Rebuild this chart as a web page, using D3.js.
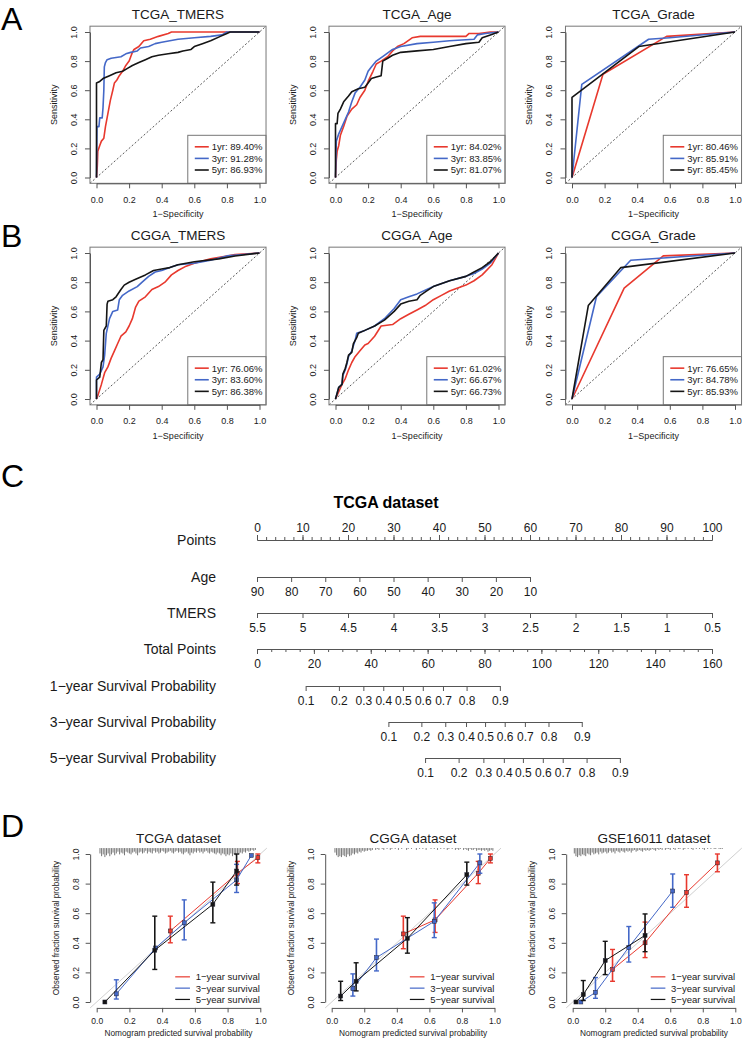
<!DOCTYPE html>
<html><head><meta charset="utf-8">
<script src="https://cdn.jsdelivr.net/npm/d3@7"></script>
<style>
body{margin:0;background:#fff;}
svg{display:block;font-family:"Liberation Sans",Arial,Helvetica,sans-serif;}
</style></head><body>
<svg id="c" width="745" height="1040"></svg>
<script>
// ---------------- DATA ----------------
const rocTitles = ["TCGA_TMERS","TCGA_Age","TCGA_Grade","CGGA_TMERS","CGGA_Age","CGGA_Grade"];
const rocYears = ["1yr","3yr","5yr"];
const rocAUC = [[89.40,91.28,86.93],[84.02,83.85,81.07],[80.46,85.91,85.45],[76.06,83.60,86.38],[61.02,66.67,66.73],[76.65,84.78,85.93]];
const rocTicks = [0,0.2,0.4,0.6,0.8,1.0];

const tcgaTmers1 = [[0,0],[0.005,0.08],[0.008,0.18],[0.02,0.22],[0.03,0.25],[0.045,0.27],[0.055,0.35],[0.065,0.41],[0.075,0.47],[0.085,0.53],[0.1,0.6],[0.11,0.65],[0.125,0.67],[0.14,0.7],[0.16,0.73],[0.18,0.77],[0.2,0.8],[0.21,0.83],[0.22,0.86],[0.23,0.88],[0.26,0.9],[0.29,0.94],[0.33,0.95],[0.38,0.97],[0.44,0.99],[0.46,1],[1,1]];
const tcgaTmers3 = [[0,0],[0.003,0.35],[0.015,0.35],[0.02,0.41],[0.035,0.41],[0.04,0.48],[0.045,0.6],[0.048,0.76],[0.055,0.79],[0.065,0.81],[0.09,0.82],[0.15,0.83],[0.18,0.85],[0.21,0.86],[0.25,0.87],[0.27,0.89],[0.32,0.9],[0.36,0.92],[0.4,0.93],[0.45,0.94],[0.5,0.95],[0.6,0.96],[0.7,0.97],[0.77,0.98],[0.8,1],[1,1]];
const tcgaTmers5 = [[0,0],[0,0.65],[0.02,0.66],[0.04,0.68],[0.08,0.7],[0.12,0.72],[0.16,0.73],[0.19,0.75],[0.22,0.77],[0.26,0.79],[0.3,0.81],[0.34,0.83],[0.38,0.84],[0.44,0.85],[0.5,0.86],[0.53,0.87],[0.58,0.88],[0.6,0.9],[0.65,0.92],[0.7,0.94],[0.76,0.97],[0.8,0.99],[0.82,1],[1,1]];

const tcgaAge1 = [[0,0],[0.005,0.12],[0.01,0.18],[0.02,0.22],[0.03,0.29],[0.05,0.35],[0.07,0.42],[0.1,0.47],[0.13,0.5],[0.15,0.55],[0.18,0.6],[0.2,0.66],[0.23,0.73],[0.25,0.78],[0.28,0.8],[0.32,0.83],[0.35,0.87],[0.38,0.9],[0.42,0.92],[0.47,0.96],[0.52,0.97],[0.8,0.97],[0.82,0.99],[0.88,0.99],[0.95,1],[1,1]];
const tcgaAge3 = [[0,0],[0.005,0.25],[0.02,0.3],[0.04,0.35],[0.06,0.4],[0.08,0.45],[0.1,0.52],[0.12,0.58],[0.15,0.62],[0.18,0.67],[0.2,0.73],[0.22,0.76],[0.25,0.8],[0.3,0.84],[0.35,0.88],[0.4,0.9],[0.5,0.92],[0.6,0.93],[0.7,0.94],[0.85,0.95],[0.87,0.98],[0.92,0.99],[1,1]];
const tcgaAge5 = [[0,0],[0,0.37],[0.01,0.37],[0.015,0.44],[0.03,0.47],[0.05,0.52],[0.08,0.56],[0.1,0.59],[0.14,0.61],[0.18,0.62],[0.2,0.65],[0.22,0.68],[0.25,0.69],[0.28,0.7],[0.29,0.8],[0.32,0.82],[0.35,0.84],[0.4,0.86],[0.5,0.87],[0.6,0.88],[0.7,0.9],[0.8,0.92],[0.88,0.93],[0.9,0.96],[0.95,0.98],[1,1]];

const tcgaGrade1 = [[0,0],[0.19,0.71],[0.58,0.97],[1,1]];
const tcgaGrade3 = [[0,0],[0.06,0.64],[0.47,0.95],[0.6,0.96],[1,1]];
const tcgaGrade5 = [[0,0],[0,0.55],[0.41,0.9],[1,1]];

const cggaTmers1 = [[0,0],[0.01,0.03],[0.03,0.1],[0.05,0.18],[0.07,0.22],[0.09,0.28],[0.11,0.33],[0.13,0.38],[0.15,0.43],[0.18,0.46],[0.2,0.5],[0.22,0.55],[0.24,0.63],[0.26,0.67],[0.3,0.7],[0.34,0.75],[0.38,0.77],[0.42,0.8],[0.46,0.85],[0.5,0.88],[0.55,0.91],[0.6,0.93],[0.7,0.96],[0.8,0.98],[0.85,0.99],[1,1]];
const cggaTmers3 = [[0,0],[0,0.15],[0.02,0.17],[0.04,0.22],[0.05,0.3],[0.06,0.45],[0.08,0.55],[0.1,0.6],[0.13,0.61],[0.14,0.68],[0.16,0.71],[0.2,0.74],[0.25,0.77],[0.28,0.8],[0.32,0.84],[0.36,0.87],[0.4,0.88],[0.45,0.9],[0.5,0.92],[0.6,0.93],[0.7,0.95],[0.8,0.98],[0.9,0.99],[1,1]];
const cggaTmers5 = [[0,0],[0,0.13],[0.02,0.15],[0.03,0.25],[0.04,0.27],[0.045,0.47],[0.06,0.5],[0.065,0.65],[0.07,0.67],[0.1,0.68],[0.12,0.7],[0.15,0.75],[0.17,0.78],[0.2,0.8],[0.24,0.82],[0.3,0.85],[0.35,0.88],[0.4,0.89],[0.45,0.9],[0.5,0.92],[0.6,0.94],[0.75,0.96],[0.85,0.98],[1,1]];

const cggaAge1 = [[0,0],[0.02,0.05],[0.04,0.1],[0.06,0.14],[0.08,0.2],[0.1,0.25],[0.12,0.29],[0.15,0.33],[0.18,0.37],[0.2,0.38],[0.24,0.43],[0.28,0.5],[0.35,0.51],[0.4,0.55],[0.45,0.58],[0.5,0.61],[0.55,0.64],[0.6,0.68],[0.65,0.71],[0.7,0.74],[0.75,0.76],[0.8,0.78],[0.85,0.81],[0.9,0.85],[0.96,0.92],[1,1]];
const cggaAge3 = [[0,0],[0.01,0.04],[0.02,0.08],[0.04,0.1],[0.045,0.16],[0.06,0.2],[0.07,0.24],[0.08,0.29],[0.1,0.33],[0.12,0.4],[0.13,0.45],[0.18,0.47],[0.24,0.5],[0.3,0.55],[0.36,0.62],[0.4,0.68],[0.45,0.7],[0.5,0.72],[0.56,0.75],[0.6,0.77],[0.7,0.81],[0.8,0.84],[0.85,0.86],[0.9,0.89],[0.95,0.93],[1,1]];
const cggaAge5 = [[0,0],[0.01,0.04],[0.02,0.08],[0.04,0.1],[0.045,0.17],[0.06,0.21],[0.07,0.25],[0.08,0.3],[0.1,0.32],[0.11,0.38],[0.13,0.42],[0.14,0.45],[0.18,0.47],[0.24,0.5],[0.3,0.54],[0.36,0.6],[0.4,0.65],[0.45,0.67],[0.5,0.68],[0.52,0.71],[0.56,0.74],[0.6,0.77],[0.7,0.81],[0.8,0.84],[0.85,0.87],[0.9,0.9],[0.95,0.94],[1,1]];

const cggaGrade1 = [[0,0],[0.32,0.76],[0.56,0.98],[1,1]];
const cggaGrade3 = [[0,0],[0.15,0.70],[0.36,0.95],[1,1]];
const cggaGrade5 = [[0,0],[0.1,0.64],[0.3,0.9],[1,1]];

// Nomogram
const nomoRows = ["Points","Age","TMERS","Total Points","1\u2212year Survival Probability","3\u2212year Survival Probability","5\u2212year Survival Probability"];
const pointsTicks = [0,10,20,30,40,50,60,70,80,90,100];
const ageTicks = [90,80,70,60,50,40,30,20,10];
const agePoints = [0,60];           // points for age 90 and age 10
const tmersTicks = [5.5,5,4.5,4,3.5,3,2.5,2,1.5,1,0.5];
const tmersPoints = [0,100];        // points for TMERS 5.5 and 0.5
const totalTicks = [0,20,40,60,80,100,120,140,160];
const survProbs = [0.1,0.2,0.3,0.4,0.5,0.6,0.7,0.8,0.9];
const surv1yrTotal = [17.1,28.8,37.4,44.4,51.3,58.3,65.4,73.7,85.4];
const surv3yrTotal = [46.2,57.8,66.2,73.5,80.2,87.1,94.2,102.5,114.2];
const surv5yrTotal = [59.1,70.9,79.6,86.8,93.5,100.5,107.5,115.9,127.6];

// Calibration: [predicted, observed, lower, upper]
const calTitles = ["TCGA dataset","CGGA dataset","GSE16011 dataset"];
const calLegend = ["1\u2212year survival","3\u2212year survival","5\u2212year survival"];
const tcgaCal1 = [[0.45,0.48,0.40,0.58],[0.86,0.87,0.80,0.95],[0.985,0.975,0.94,1.0]];
const tcgaCal3 = [[0.12,0.055,0.02,0.15],[0.36,0.365,null,null],[0.535,0.535,0.42,0.69],[0.855,0.825,0.74,0.93],[0.945,0.99,null,null]];
const tcgaCal5 = [[0.05,0.0,null,null],[0.355,0.35,0.22,0.58],[0.71,0.66,0.535,0.81],[0.855,0.885,0.79,1.0]];
const cggaCal1 = [[0.44,0.46,0.36,0.58],[0.635,0.555,0.47,0.69],[0.90,0.87,0.80,0.95],[0.975,0.97,0.94,1.0]];
const cggaCal3 = [[0.13,0.09,0.04,0.19],[0.275,0.30,0.21,0.425],[0.63,0.545,0.435,0.67],[0.91,0.94,0.87,1.0]];
const cggaCal5 = [[0.055,0.04,0.01,0.14],[0.15,0.14,0.075,0.265],[0.465,0.43,0.33,0.57],[0.83,0.86,0.79,0.945]];
const gseCal1 = [[0.245,0.22,0.14,0.355],[0.445,0.40,0.30,0.54],[0.70,0.74,0.64,0.86],[0.89,0.94,0.88,1.0]];
const gseCal3 = [[0.05,0.0,null,null],[0.14,0.065,0.025,0.165],[0.345,0.37,0.27,0.51],[0.615,0.75,0.64,0.865]];
const gseCal5 = [[0.02,0.0,null,null],[0.065,0.05,0.01,0.145],[0.2,0.28,0.185,0.41],[0.445,0.45,0.34,0.595]];

// Risk distribution spikes (relative frequency per 0.01 bin of predicted probability)
const tcgaRiskStart = 0.02;
const tcgaRisk = [0.6,0.9,0.7,1.0,0.8,0.6,0.9,0.7,0.5,0.8,0.6,0.4,0.7,0.5,0.6,0.8,0.4,0.5,0.6,0.7,0.5,0.4,0.6,0.8,0.5,0.4,0.6,0.5,0.3,0.6,0.4,0.5,0.6,0.3,0.5,0.4,0.6,0.5,0.3,0.4,0.6,0.5,0.4,0.3,0.5,0.6,0.4,0.3,0.5,0.4,0.6,0.7,0.5,0.4,0.6,0.8,0.5,0.6,0.4,0.5,0.3,0.5,0.4,0.6,0.4,0.3,0.5,0.6,0.4,0.5,0.6,0.7,0.5,0.6,0.8,0.6,0.7,0.9,0.7,0.8,0.6,0.9,0.7,0.8,0.6,0.7,0.5,0.6,0.4,0.5,0.3,0.4,0.3,0.2,0.3,0.2];
const cggaRiskStart = 0.02;
const cggaRisk = [0.5,0.8,1.0,0.9,1.0,0.8,0.9,1.0,0.7,0.9,0.8,0.6,0.7,0.5,0.6,0.4,0.5,0.3,0.4,0.3,0.3,0.2,0.3,0.2,0,0.2,0.1,0.2,0,0.1,0.2,0,0.1,0,0.2,0.1,0,0.1,0,0.2,0,0.1,0,0,0.2,0.1,0,0.1,0,0,0.2,0,0.1,0,0.1,0,0.2,0,0,0.1,0,0.1,0,0.2,0,0.1,0,0.1,0,0.2,0.1,0,0.1,0,0.2,0.1,0.2,0.1,0,0.2,0.1,0.2,0.3,0.1,0.2,0.2,0.1,0.3,0.2,0.2,0.3,0.2,0.3,0.2,0.4,0.3,0.2,0.3];
const gseRiskStart = 0.01;
const gseRisk = [0.6,0.9,1.0,0.8,0.9,0.7,0.8,0.9,0.6,0.7,0.8,0.5,0.7,0.6,0.5,0.7,0.4,0.6,0.5,0.4,0.6,0.5,0.3,0.5,0.4,0.6,0.3,0.4,0.5,0.3,0.4,0.5,0.3,0.4,0.3,0.5,0.3,0.2,0.4,0.3,0.2,0.3,0.4,0.2,0.3,0.2,0.3,0.2,0.1,0.2,0.3,0.1,0.2,0.1,0.2,0,0.2,0.1,0.1,0.2,0,0.1,0.2,0,0.1,0.1,0,0.2,0.1,0,0.1,0,0.1,0.2,0,0.1,0,0.1,0,0.1,0.2,0,0.1,0,0.1,0,0.1,0.1,0,0.1,0.1,0.1];

// ---------------- DRAWING ----------------
const COLORS = ["#E8392E","#4468C8","#151515"];
const TXT = "#1a1a1a", AX = "#555";
const svg = d3.select("#c");
svg.append("rect").attr("width",745).attr("height",1040).attr("fill","#fff");

function styleAxis(g, fs){
  g.attr("font-family",null).attr("font-size",null);
  g.selectAll(".domain").attr("stroke",AX).attr("stroke-width",1);
  g.selectAll(".tick line").attr("stroke",AX).attr("stroke-width",1);
  g.selectAll(".tick text").attr("fill",TXT).style("font-size",fs+"px");
}

function panelLetter(t,x,y){
  svg.append("text").attr("x",x).attr("y",y).text(t).attr("fill","#000").style("font-size","32px");
}

const colX = [[96.5,259.5],[335.5,498.5],[572,735]];

function rocPlot(ci, yTop, yBot, title, curves, aucs){
  const x = d3.scaleLinear().domain([0,1]).range(colX[ci]);
  const y = d3.scaleLinear().domain([0,1]).range([yBot,yTop]);
  const g = svg.append("g");
  g.append("line").attr("x1",x(-0.04)).attr("y1",y(-0.04)).attr("x2",x(1.04)).attr("y2",y(1.04))
    .attr("stroke","#444").attr("stroke-width",0.9).attr("stroke-dasharray","2,2");
  const line = d3.line().x(d=>x(d[0])).y(d=>y(d[1]));
  curves.forEach((c,i)=>{
    g.append("path").attr("d",line(c)).attr("fill","none").attr("stroke",COLORS[i]).attr("stroke-width",1.6).attr("stroke-linejoin","round");
  });
  // legend
  const lx0 = x(0.56), ly0 = y(0.29);
  g.append("rect").attr("x",lx0).attr("y",ly0).attr("width",x(1.04)-lx0).attr("height",y(-0.04)-ly0)
    .attr("fill","#fff").attr("stroke","#777").attr("stroke-width",1);
  aucs.forEach((a,i)=>{
    const yy = ly0 + 11.5 + i*11.6;
    g.append("line").attr("x1",lx0+7).attr("x2",lx0+21).attr("y1",yy).attr("y2",yy).attr("stroke",COLORS[i]).attr("stroke-width",1.6);
    g.append("text").attr("x",lx0+24).attr("y",yy+3.4).text(rocYears[i]+": "+a.toFixed(2)+"%").attr("fill",TXT).style("font-size","9.5px");
  });
  // box
  g.append("rect").attr("x",x(-0.04)).attr("y",y(1.04)).attr("width",x(1.04)-x(-0.04)).attr("height",y(-0.04)-y(1.04))
    .attr("fill","none").attr("stroke","#777").attr("stroke-width",1);
  // axes
  const xa = g.append("g").attr("transform",`translate(0,${y(-0.04)})`)
    .call(d3.axisBottom(x).tickValues(rocTicks).tickSize(5).tickSizeOuter(0).tickPadding(8).tickFormat(d3.format(".1f")));
  styleAxis(xa,9);
  const ya = g.append("g").attr("transform",`translate(${x(-0.04)},0)`)
    .call(d3.axisLeft(y).tickValues(rocTicks).tickSize(5).tickSizeOuter(0).tickFormat(d3.format(".1f")));
  styleAxis(ya,9);
  ya.selectAll(".tick text").attr("transform","rotate(-90)").attr("x",0).attr("y",-13).attr("dy",0).attr("text-anchor","middle");
  // labels
  g.append("text").attr("x",(x(0)+x(1))/2).attr("y",yTop-13).attr("text-anchor","middle").text(title).attr("fill",TXT).style("font-size","13.5px");
  g.append("text").attr("x",(x(0)+x(1))/2).attr("y",y(-0.04)+34).attr("text-anchor","middle").text("1\u2212Specificity").attr("fill",TXT).style("font-size","9px");
  g.append("text").attr("transform",`translate(${x(-0.04)-33},${(y(0)+y(1))/2}) rotate(-90)`).attr("text-anchor","middle").text("Sensitivity").attr("fill",TXT).style("font-size","9px");
}

panelLetter("A",1,29.5);
rocPlot(0,32,177.5,rocTitles[0],[tcgaTmers1,tcgaTmers3,tcgaTmers5],rocAUC[0]);
rocPlot(1,32,177.5,rocTitles[1],[tcgaAge1,tcgaAge3,tcgaAge5],rocAUC[1]);
rocPlot(2,32,177.5,rocTitles[2],[tcgaGrade1,tcgaGrade3,tcgaGrade5],rocAUC[2]);
panelLetter("B",1,247);
rocPlot(0,253,399,rocTitles[3],[cggaTmers1,cggaTmers3,cggaTmers5],rocAUC[3]);
rocPlot(1,253,399,rocTitles[4],[cggaAge1,cggaAge3,cggaAge5],rocAUC[4]);
rocPlot(2,253,399,rocTitles[5],[cggaGrade1,cggaGrade3,cggaGrade5],rocAUC[5]);

// ---------- Nomogram ----------
panelLetter("C",1,487);
svg.append("text").attr("x",386).attr("y",508).attr("text-anchor","middle").text("TCGA dataset")
  .attr("fill","#000").style("font-size","16px").style("font-weight","bold");
const rowY = [540,577,613,649,686,722,758];
const pts = d3.scaleLinear().domain([0,100]).range([257,712]);
const tot = d3.scaleLinear().domain([0,160]).range([257,712]);
nomoRows.forEach((r,i)=>{
  svg.append("text").attr("x",216).attr("y",rowY[i]+5).attr("text-anchor","end").text(r).attr("fill",TXT).style("font-size","14px");
});
function nomoAxis(scale, yPos, ticks, fmt, top, minor){
  if(minor){
    const gm = svg.append("g").attr("transform",`translate(0,${yPos})`)
      .call((top?d3.axisTop(scale):d3.axisBottom(scale)).tickValues(minor).tickSize(3).tickSizeOuter(0).tickFormat(""));
    styleAxis(gm,12);
  }
  const g = svg.append("g").attr("transform",`translate(0,${yPos})`)
    .call((top?d3.axisTop(scale):d3.axisBottom(scale)).tickValues(ticks).tickSize(5).tickSizeOuter(0).tickPadding(top?3.5:5).tickFormat(fmt));
  styleAxis(g,12);
  return g;
}
nomoAxis(pts,rowY[0],pointsTicks,d=>d,true,d3.range(0,101,2));
const ageScale = d3.scaleLinear().domain([ageTicks[0],ageTicks[ageTicks.length-1]]).range(agePoints.map(pts));
nomoAxis(ageScale,rowY[1],ageTicks,d=>d,false);
const tmScale = d3.scaleLinear().domain([tmersTicks[0],tmersTicks[tmersTicks.length-1]]).range(tmersPoints.map(pts));
nomoAxis(tmScale,rowY[2],tmersTicks,d=>d,false);
nomoAxis(tot,rowY[3],totalTicks,d=>d,false,d3.range(0,161,5));
[surv1yrTotal,surv3yrTotal,surv5yrTotal].forEach((arr,k)=>{
  const s = d3.scaleLinear().domain([arr[0],arr[arr.length-1]]).range([tot(arr[0]),tot(arr[arr.length-1])]);
  nomoAxis(s,rowY[4+k],arr,(d,i)=>survProbs[i],false);
});

// ---------- Calibration ----------
panelLetter("D",1,837);
const colD = [[96.7,260.3],[331.7,494.5],[572.7,735.3]];
function calPlot(ci, title, series, risk, riskStart){
  const x = d3.scaleLinear().domain([0,1]).range(colD[ci]);
  const y = d3.scaleLinear().domain([0,1]).range([1002,854]);
  const g = svg.append("g");
  // ideal line
  g.append("line").attr("x1",x(-0.04)).attr("y1",y(-0.04)).attr("x2",x(1.04)).attr("y2",y(1.04)).attr("stroke","#d0d0d0").attr("stroke-width",1);
  // risk spikes
  const hs = d3.scaleLinear().domain([0,1]).range([0,9]);
  risk.forEach((h,i)=>{
    if(h<=0) return;
    const px = x(riskStart + i*0.01);
    g.append("line").attr("x1",px).attr("x2",px).attr("y1",y(1.04)).attr("y2",y(1.04)+hs(h)).attr("stroke","#555").attr("stroke-width",0.8);
  });
  const line = d3.line().x(d=>x(d[0])).y(d=>y(d[1]));
  series.forEach((s,k)=>{
    const c = COLORS[k];
    g.append("path").attr("d",line(s)).attr("fill","none").attr("stroke",c).attr("stroke-width",1);
    s.forEach(d=>{
      if(d[2]!==null){
        g.append("line").attr("x1",x(d[0])).attr("x2",x(d[0])).attr("y1",y(d[2])).attr("y2",y(d[3])).attr("stroke",c).attr("stroke-width",1.6);
        [d[2],d[3]].forEach(v=>g.append("line").attr("x1",x(d[0])-2.5).attr("x2",x(d[0])+2.5).attr("y1",y(v)).attr("y2",y(v)).attr("stroke",c).attr("stroke-width",1.4));
      }
      g.append("rect").attr("x",x(d[0])-2).attr("y",y(d[1])-2).attr("width",4).attr("height",4).attr("fill",c).attr("stroke","#223").attr("stroke-width",0.5);
    });
  });
  // legend
  calLegend.forEach((t,i)=>{
    const yy = y(0.17) + i*11.3;
    g.append("line").attr("x1",x(0.48)).attr("x2",x(0.57)).attr("y1",yy).attr("y2",yy).attr("stroke",COLORS[i]).attr("stroke-width",1.2);
    g.append("text").attr("x",x(0.605)).attr("y",yy+3.4).text(t).attr("fill",TXT).style("font-size","9.5px");
  });
  const xa = g.append("g").attr("transform",`translate(0,${y(-0.04)})`)
    .call(d3.axisBottom(x).tickValues(rocTicks).tickSize(4.5).tickSizeOuter(0).tickPadding(6).tickFormat(d3.format(".1f")));
  styleAxis(xa,8.5);
  const ya = g.append("g").attr("transform",`translate(${x(-0.04)},0)`)
    .call(d3.axisLeft(y).tickValues(rocTicks).tickSize(4.5).tickSizeOuter(0).tickFormat(d3.format(".1f")));
  styleAxis(ya,8.5);
  ya.selectAll(".tick text").attr("transform","rotate(-90)").attr("x",0).attr("y",-11.5).attr("dy",0).attr("text-anchor","middle");
  g.append("text").attr("x",(x(0)+x(1))/2).attr("y",843).attr("text-anchor","middle").text(title).attr("fill",TXT).style("font-size","13.5px");
  g.append("text").attr("x",(x(0)+x(1))/2).attr("y",y(-0.04)+28).attr("text-anchor","middle").text("Nomogram predicted survival probability").attr("fill",TXT).style("font-size","8.3px");
  g.append("text").attr("transform",`translate(${x(-0.04)-31},${(y(0)+y(1))/2}) rotate(-90)`).attr("text-anchor","middle").text("Observed fraction survival probability").attr("fill",TXT).style("font-size","8.2px");
}
calPlot(0,calTitles[0],[tcgaCal1,tcgaCal3,tcgaCal5],tcgaRisk,tcgaRiskStart);
calPlot(1,calTitles[1],[cggaCal1,cggaCal3,cggaCal5],cggaRisk,cggaRiskStart);
calPlot(2,calTitles[2],[gseCal1,gseCal3,gseCal5],gseRisk,gseRiskStart);
</script>
</body></html>
